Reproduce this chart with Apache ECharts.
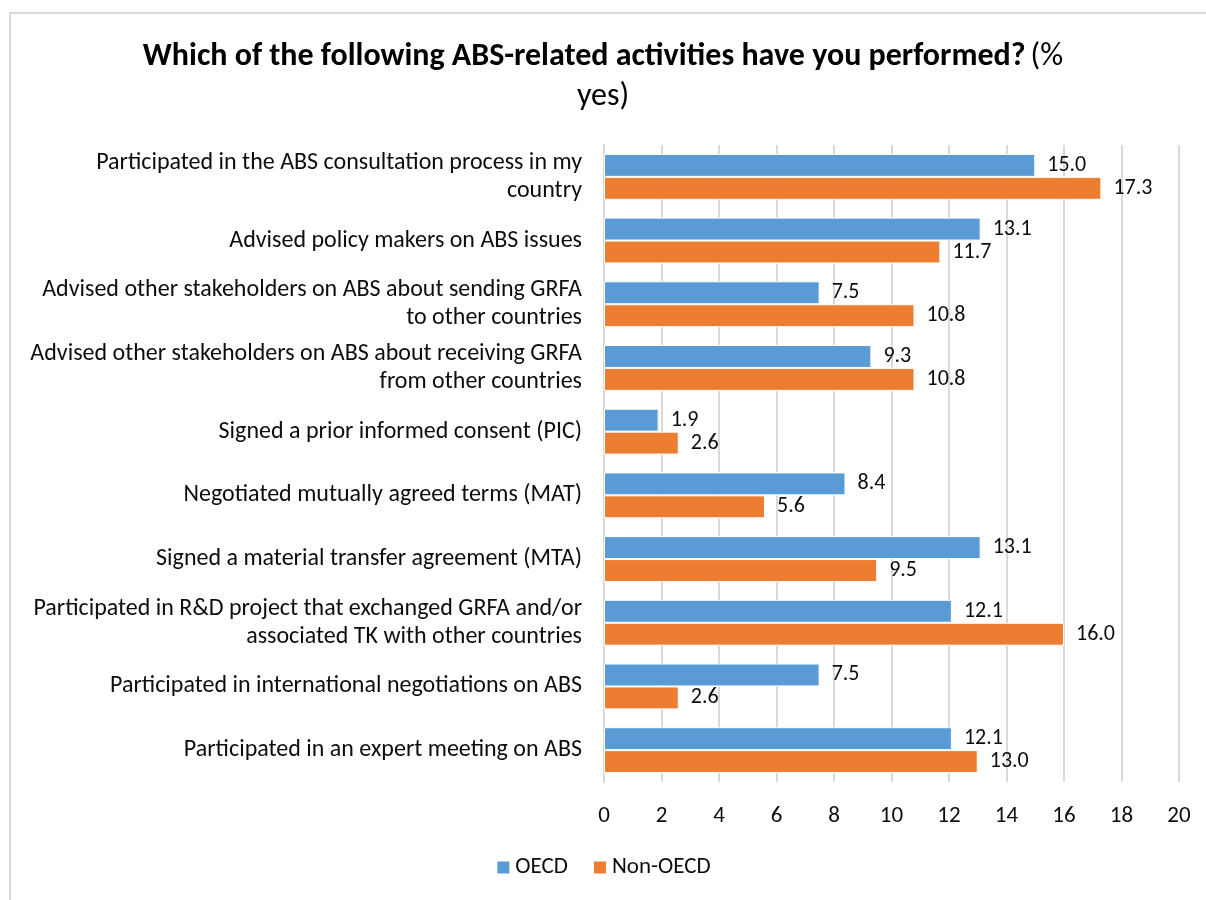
<!DOCTYPE html>
<html>
<head>
<meta charset="utf-8">
<script src="https://cdn.jsdelivr.net/npm/echarts@6/dist/echarts.min.js"></script>
<style>
  html, body { margin: 0; padding: 0; background: #fff; }
  #frame {
    position: absolute;
    left: 9px;
    top: 12px;
    width: 1206px;
    height: 900px;
    border: 2px solid #d9d9d9;
    box-sizing: border-box;
  }
  #chart { position: absolute; left: 0; top: 0; width: 1206px; height: 900px; }
</style>
</head>
<body>
<div id="frame"></div>
<div id="chart"></div>
<script>
const categories = [
  'Participated in the ABS consultation process in my\ncountry',
  'Advised policy makers on ABS issues',
  'Advised other stakeholders on ABS about sending GRFA\nto other countries',
  'Advised other stakeholders on ABS about receiving GRFA\nfrom other countries',
  'Signed a prior informed consent (PIC)',
  'Negotiated mutually agreed terms (MAT)',
  'Signed a material transfer agreement (MTA)',
  'Participated in R&D project that exchanged GRFA and/or\nassociated TK with other countries',
  'Participated in international negotiations on ABS',
  'Participated in an expert meeting on ABS'
];
const oecd = [15.0, 13.1, 7.5, 9.3, 1.9, 8.4, 13.1, 12.1, 7.5, 12.1];
const nonOecd = [17.3, 11.7, 10.8, 10.8, 2.6, 5.6, 9.5, 16.0, 2.6, 13.0];
const xTicks = [0, 2, 4, 6, 8, 10, 12, 14, 16, 18, 20];

const fontFamily = 'Carlito, "Liberation Sans", sans-serif';
const textColor = '#0d0d0d';

const chart = echarts.init(document.getElementById('chart'), null, { renderer: 'canvas' });

const labelOpt = {
  show: true,
  position: 'right',
  distance: 12,
  color: textColor,
  fontSize: 22,
  fontFamily: fontFamily,
  formatter: (p) => p.value.toFixed(1)
};

chart.setOption({
  animation: false,
  title: {
    text: '{b|Which of the following ABS-related activities have you performed?} {r|(%}\n{r|yes)}',
    left: 'center',
    top: 32,
    textStyle: {
      rich: {
        b: { fontSize: 32, fontWeight: 'bold', color: '#000', fontFamily: fontFamily, lineHeight: 40 },
        r: { fontSize: 32, fontWeight: 'normal', color: '#000', fontFamily: fontFamily, lineHeight: 40 }
      }
    }
  },
  legend: {
    bottom: 16,
    left: 'center',
    itemWidth: 14,
    itemHeight: 14,
    itemGap: 24,
    icon: 'rect',
    textStyle: { color: textColor, fontSize: 23, fontFamily: fontFamily },
    data: ['OECD', 'Non-OECD']
  },
  grid: { left: 604, right: 27, top: 145, bottom: 118 },
  xAxis: {
    type: 'value',
    min: 0,
    max: 20,
    interval: 2,
    axisLine: { show: false },
    axisTick: { show: false },
    splitLine: { lineStyle: { color: '#d9d9d9', width: 2 } },
    axisLabel: {
      color: textColor,
      fontSize: 23,
      fontFamily: fontFamily,
      margin: 23,
      formatter: (v) => xTicks.includes(v) ? String(v) : ''
    }
  },
  yAxis: {
    type: 'category',
    inverse: true,
    data: categories,
    axisLine: { lineStyle: { color: '#d9d9d9', width: 2 } },
    axisTick: { show: false },
    axisLabel: {
      color: textColor,
      fontSize: 24,
      fontFamily: fontFamily,
      margin: 22,
      lineHeight: 28,
      align: 'right'
    }
  },
  series: [
    {
      name: 'OECD',
      type: 'bar',
      data: oecd,
      barGap: '0%',
      barCategoryGap: '28%',
      itemStyle: { color: '#5b9bd5', borderColor: '#ffffff', borderWidth: 1 },
      label: labelOpt
    },
    {
      name: 'Non-OECD',
      type: 'bar',
      data: nonOecd,
      itemStyle: { color: '#ed7d31', borderColor: '#ffffff', borderWidth: 1 },
      label: labelOpt
    }
  ]
});
</script>
</body>
</html>
